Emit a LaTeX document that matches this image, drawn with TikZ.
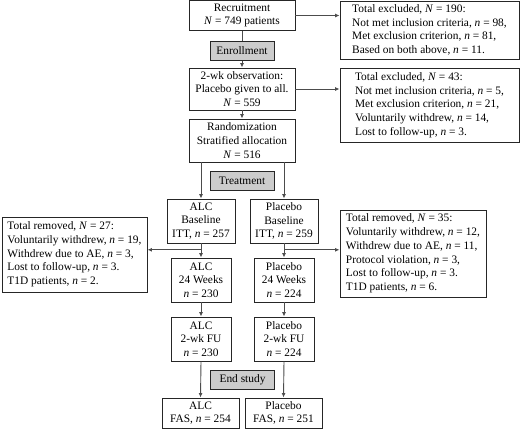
\documentclass[tikz,border=0pt]{standalone}
\usepackage{fontspec}
\setmainfont{Liberation Serif}
\usetikzlibrary{arrows.meta,calc}
\begin{document}
\begin{tikzpicture}[x=1pt,y=1pt,
  box/.style={draw=black!85,line width=0.9pt,align=center,inner sep=0pt},
  stage/.style={box,fill=black!20,minimum width=64pt,minimum height=19pt},
  note/.style={draw=black!85,line width=0.9pt,align=left,inner sep=0pt},
  link/.style={draw=black!70,line width=0.9pt,-{Latex[length=4.5pt,width=4pt]}}]
\tikzstyle{every node}+=[font=\fontsize{11.4}{13.7}\selectfont]
\useasboundingbox (0,0) rectangle (520,-429);
\node [box,minimum width=106pt,minimum height=30pt] (rec) at (242,-15.5) {Recruitment\\\textit{N} = 749 patients};
\node [note,minimum width=179pt,minimum height=58pt] (ex1) at (429.5,-30) {Total excluded, \textit{N} = 190:\\Not met inclusion criteria, \textit{n} = 98,\\Met exclusion criterion, \textit{n} = 81,\\Based on both above, \textit{n} = 11.};
\node [box,minimum width=106pt,minimum height=42pt] (obs) at (242,-89) {2-wk observation:\\Placebo given to all.\\\textit{N} = 559};
\node [note,minimum width=179pt,minimum height=74pt] (ex2) at (429.5,-105) {Total excluded, \textit{N} = 43:\\Not met inclusion criteria, \textit{n} = 5,\\Met exclusion criterion, \textit{n} = 21,\\Voluntarily withdrew, \textit{n} = 14,\\Lost to follow-up, \textit{n} = 3.};
\node [box,minimum width=106pt,minimum height=43pt] (rnd) at (242,-140.5) {Randomization\\Stratified allocation\\\textit{N} = 516};
\node [stage] (trt) at (242,-181) {Treatment};
\node [box,minimum width=68pt,minimum height=44pt] (alcB) at (201,-221) {ALC\\Baseline\\ITT, \textit{n} = 257};
\node [box,minimum width=68pt,minimum height=44pt] (plcB) at (284,-221) {Placebo\\Baseline\\ITT, \textit{n} = 259};
\node [note,minimum width=145pt,minimum height=75pt] (remL) at (74.5,-254.5) {Total removed, \textit{N} = 27:\\Voluntarily withdrew, \textit{n} = 19,\\Withdrew due to AE, \textit{n} = 3,\\Lost to follow-up, \textit{n} = 3.\\T1D patients, \textit{n} = 2.};
\node [note,minimum width=146pt,minimum height=87pt] (remR) at (413,-253.5) {Total removed, \textit{N} = 35:\\Voluntarily withdrew, \textit{n} = 12,\\Withdrew due to AE, \textit{n} = 11,\\Protocol violation, \textit{n} = 3,\\Lost to follow-up, \textit{n} = 3.\\T1D patients, \textit{n} = 6.};
\node [box,minimum width=60pt,minimum height=44pt] (alc24) at (201,-280) {ALC\\24 Weeks\\\textit{n} = 230};
\node [box,minimum width=60pt,minimum height=44pt] (plc24) at (284,-280) {Placebo\\24 Weeks\\\textit{n} = 224};
\node [box,minimum width=60pt,minimum height=44pt] (alcFU) at (201,-339) {ALC\\2-wk FU\\\textit{n} = 230};
\node [box,minimum width=60pt,minimum height=44pt] (plcFU) at (284,-339) {Placebo\\2-wk FU\\\textit{n} = 224};
\node [stage] (end) at (242.5,-380) {End study};
\node [box,minimum width=77pt,minimum height=30pt] (alcF) at (200.5,-413) {ALC\\FAS, \textit{n} = 254};
\node [box,minimum width=77pt,minimum height=30pt] (plcF) at (283.5,-413) {Placebo\\FAS, \textit{n} = 251};
\coordinate (alcM) at ($(alcB.south)!0.45!(alc24.north)$);
\coordinate (plcM) at ($(plcB.south)!0.45!(plc24.north)$);
\draw [link] (rec.south) -- (obs.north);
\node [stage] (enr) at (242,-50.5) {Enrollment};
\draw [link] (rec.east) -- (rec.east -| ex1.west);
\draw [link] (obs.east) -- (obs.east -| ex2.west);
\draw [link] (obs.south) -- (rnd.north);
\draw [link] (alcB.north |- rnd.south) -- (alcB.north);
\draw [link] (plcB.north |- rnd.south) -- (plcB.north);
\draw [link] (alcB.south) -- (alc24.north);
\draw [link] (plcB.south) -- (plc24.north);
\draw [link] (alcM) -- (alcM -| remL.east);
\draw [link] (plcM) -- (plcM -| remR.west);
\draw [link] (alc24.south) -- (alcFU.north);
\draw [link] (plc24.south) -- (plcFU.north);
\draw [link] (alcFU.south) -- (alcF.north);
\draw [link] (plcFU.south) -- (plcF.north);
\end{tikzpicture}
\end{document}
